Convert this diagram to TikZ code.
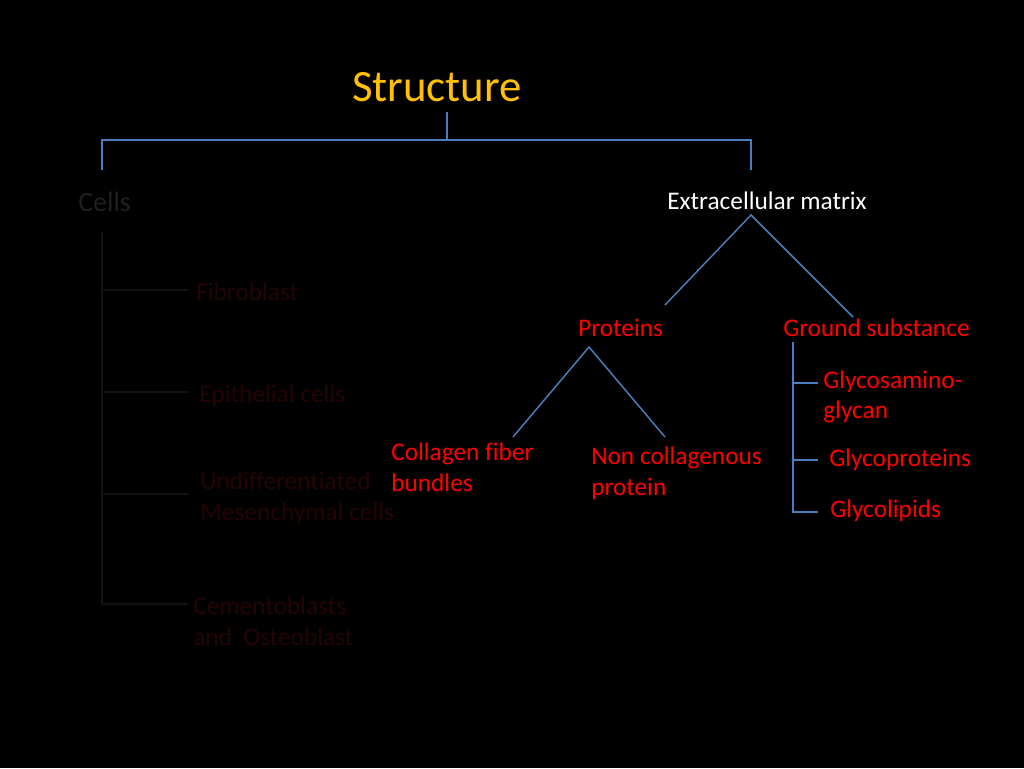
\documentclass[tikz,border=0pt]{standalone}
\usepackage{fontspec}
\setmainfont{Carlito}[Ligatures=NoCommon]
\usepackage{tikz}
\usetikzlibrary{positioning}
\definecolor{slideblue}{HTML}{4A7EBB}
\definecolor{slidegold}{HTML}{FFC000}
\definecolor{dimgray}{HTML}{202020}
\definecolor{dimred}{HTML}{240404}
\definecolor{dimline}{HTML}{121212}
\tikzset{%
    label text/.style={font=\fontsize{19}{23}\selectfont, inner sep=0pt, align=left},
    red text/.style={label text, text=red},
    dim text/.style={label text, text=dimred},
    tree line/.style={draw=slideblue, line width=1.1pt},
    dim line/.style={draw=dimline, line width=1pt},
}

\begin{document}
\begin{tikzpicture}[x=0.75pt, y=-0.75pt]
    \fill[black] (0,0) rectangle (1024,768);
    \useasboundingbox (0,0) rectangle (1024,768);
    % heading and first split
    \node[font=\fontsize{33.6}{40}\selectfont, text=slidegold, inner sep=0pt, anchor=base] (title) at (437,101) {Structure};
    \coordinate (title stem) at (447,112);
    \coordinate (title join) at (447,140);
    \coordinate (cells top) at (102,170);
    \coordinate (ecm corner) at (751,140);
    \coordinate (ecm top) at (751,170);
    \draw[tree line] (title stem) -- (title join);
    \draw[tree line] (cells top) |- (ecm corner) -- (ecm top);
    % cells (left branch)
    \node[label text, font=\fontsize{21}{25}\selectfont, text=dimgray, anchor=base west] (cells) at (78,211) {Cells};
    \node[dim text, anchor=base west] (fibro) at (196,300) {Fibroblast};
    \node[dim text, anchor=base west] (epi) at (199,402) {Epithelial cells};
    \node[dim text, anchor=west] (mesen) at (200,498) {Undifferentiated\\Mesenchymal cells};
    \node[dim text, anchor=west] (cemento) at (193,621) {Cementoblasts\\and~ Osteoblast};
    \coordinate (cells rail) at (102,232);
    \coordinate (cells end) at (102,604);
    \draw[dim line] (cells rail) -- (cells end);
    \foreach \y/\n in {290/fibro, 392/epi, 494/mesen, 604/cemento}
        \draw[dim line] (102,\y) -- (188,\y) coordinate (\n tick);
    % extracellular matrix (right branch)
    \node[label text, text=white, anchor=base] (ecm) at (767,209) {Extracellular matrix};
    \node[red text, anchor=base west] (prot) at (578,336) {Proteins};
    \node[red text, anchor=base west] (ground) at (783,336) {Ground substance};
    \coordinate (ecm apex) at (751,215);
    \coordinate (prot top) at (665,305);
    \coordinate (ground top) at (853,317);
    \draw[tree line] (prot top) -- (ecm apex) -- (ground top);
    % proteins
    \node[red text, anchor=west] (collagen) at (391,467) {Collagen fiber\\bundles};
    \node[red text, anchor=west] (noncol) at (591,473) {Non collagenous\\protein};
    \coordinate (prot apex) at (589,347);
    \coordinate (collagen top) at (513,437);
    \coordinate (noncol top) at (665,437);
    \draw[tree line] (collagen top) -- (prot apex) -- (noncol top);
    % ground substance
    \node[red text, anchor=west] (gag) at (823,397) {Glycosamino-\\glycan};
    \node[red text, anchor=base west] (gprot) at (829,466) {Glycoproteins};
    \node[red text, anchor=base west] (glip) at (830,517) {Glycolipids};
    \coordinate (ground rail) at (793,342);
    \coordinate (glip tick) at (818,512);
    \draw[tree line] (ground rail) |- (glip tick);
    \draw[tree line] (793,383) -- (818,383) coordinate (gag tick);
    \draw[tree line] (793,460) -- (818,460) coordinate (gprot tick);
\end{tikzpicture}
\end{document}
